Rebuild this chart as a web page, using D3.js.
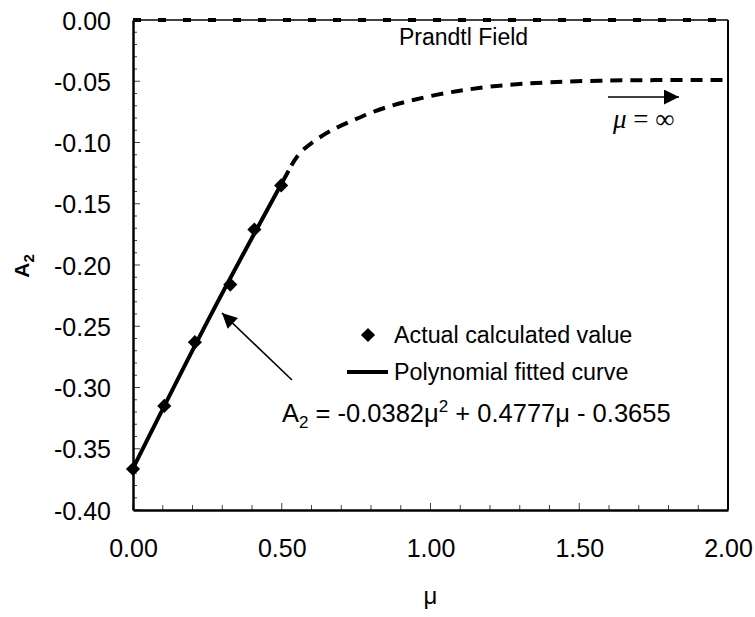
<!DOCTYPE html>
<html>
<head>
<meta charset="utf-8">
<script src="https://cdn.jsdelivr.net/npm/d3@7"></script>
<style>
  html, body { margin: 0; padding: 0; background: #fff; }
  svg { display: block; }
  text { font-family: "Liberation Sans", Arial, sans-serif; fill: #000; }
</style>
</head>
<body>
<svg id="chart" width="755" height="617"></svg>
<script>
// ---- data ----
const muActual = [0, 0.105, 0.208, 0.327, 0.408, 0.498];
const a2Actual = [-0.3665, -0.315, -0.263, -0.216, -0.171, -0.135];

const muFit = [0, 0.26, 0.523];
const a2Fit = [-0.366, -0.2415, -0.123];

const muExtrap = [0.523, 0.555, 0.612, 0.672, 0.736, 0.803, 0.874, 0.941, 1.015, 1.089, 1.16, 1.244, 1.40, 1.57, 1.74, 2.0];
const a2Extrap = [-0.123, -0.1086, -0.098, -0.089, -0.0824, -0.0751, -0.0694, -0.0653, -0.0612, -0.058, -0.0555, -0.0531, -0.0506, -0.0494, -0.049, -0.049];

const muPrandtl = [0, 2];
const a2Prandtl = [0, 0];

const xTicks = [0, 0.5, 1.0, 1.5, 2.0];
const yTicks = [0, -0.05, -0.10, -0.15, -0.20, -0.25, -0.30, -0.35, -0.40];

const legendLabels = ["Actual calculated value", "Polynomial fitted curve"];

// ---- layout ----
const svg = d3.select("#chart");
const L = 133, R = 728, T = 20, B = 510;
const x = d3.scaleLinear().domain([0, 2]).range([L, R]);
const y = d3.scaleLinear().domain([-0.4, 0]).range([B, T]);
const fmt = d => (Math.abs(d) < 1e-9 ? 0 : d).toFixed(2);

const g = svg.append("g");

// minor ticks on y (inside)
const yMinor = d3.range(0, 41).map(i => -i * 0.01);
g.append("g").selectAll("line").data(yMinor).join("line")
  .attr("x1", L).attr("x2", (d, i) => L + (i % 5 === 0 ? 7 : 4))
  .attr("y1", d => y(d)).attr("y2", d => y(d))
  .attr("stroke", "#444").attr("stroke-width", 1);

// minor ticks on x (inside)
const xMinor = d3.range(0, 21).map(i => i * 0.1);
g.append("g").selectAll("line").data(xMinor).join("line")
  .attr("x1", d => x(d)).attr("x2", d => x(d))
  .attr("y1", B).attr("y2", (d, i) => B - (i % 5 === 0 ? 7 : 5))
  .attr("stroke", "#444").attr("stroke-width", 1);

// frame
g.append("line").attr("x1", R).attr("x2", R).attr("y1", T).attr("y2", B)
  .attr("stroke", "#000").attr("stroke-width", 2);
g.append("line").attr("x1", L).attr("x2", R).attr("y1", T).attr("y2", T)
  .attr("stroke", "#000").attr("stroke-width", 1.5);

// axes via d3
const xAxis = d3.axisBottom(x).tickValues(xTicks).tickFormat(fmt).tickSize(0);
const yAxis = d3.axisLeft(y).tickValues(yTicks).tickFormat(fmt).tickSize(0).tickPadding(22);

const gx = g.append("g").attr("transform", `translate(0,${B})`).call(xAxis);
gx.select(".domain").attr("stroke", "#000").attr("stroke-width", 2.5);
gx.selectAll("text").style("font-size", "25px").attr("dy", "0").attr("y", 47);

const gy = g.append("g").attr("transform", `translate(${L},0)`).call(yAxis);
gy.select(".domain").attr("stroke", "#000").attr("stroke-width", 2.5);
gy.selectAll("text").style("font-size", "25px").attr("dy", "0.36em");

// Prandtl field dashed line at A2 = 0
const lineGen = d3.line().x(d => x(d[0])).y(d => y(d[1]));
g.append("path").datum(d3.zip(muPrandtl, a2Prandtl))
  .attr("d", lineGen).attr("fill", "none").attr("stroke", "#000")
  .attr("stroke-width", 4).attr("stroke-dasharray", "8,17");

// extrapolated dashed curve
const curveGen = d3.line().x(d => x(d[0])).y(d => y(d[1])).curve(d3.curveBasis);
g.append("path").datum(d3.zip(muExtrap, a2Extrap))
  .attr("d", curveGen).attr("fill", "none").attr("stroke", "#000")
  .attr("stroke-width", 4).attr("stroke-dasharray", "12,8").attr("stroke-dashoffset", -6);

// fitted solid curve
const fitGen = d3.line().x(d => x(d[0])).y(d => y(d[1])).curve(d3.curveNatural);
g.append("path").datum(d3.zip(muFit, a2Fit))
  .attr("d", fitGen).attr("fill", "none").attr("stroke", "#000")
  .attr("stroke-width", 4);

// actual points (diamonds)
const diamond = d3.symbol().type(d3.symbolSquare).size(100);
g.append("g").selectAll("path").data(d3.zip(muActual, a2Actual)).join("path")
  .attr("d", diamond)
  .attr("transform", d => `translate(${x(d[0])},${y(d[1])}) rotate(45)`)
  .attr("fill", "#000");

// arrow markers
const defs = svg.append("defs");
defs.append("marker").attr("id", "ah").attr("viewBox", "0 0 10 10")
  .attr("refX", 10).attr("refY", 5).attr("markerUnits", "userSpaceOnUse")
  .attr("markerWidth", 17).attr("markerHeight", 15).attr("orient", "auto")
  .append("path").attr("d", "M0,0 L10,5 L0,10 Z").attr("fill", "#000");

// annotation arrow to fitted curve
g.append("line").attr("x1", 292).attr("y1", 380).attr("x2", 222).attr("y2", 313)
  .attr("stroke", "#000").attr("stroke-width", 1.6).attr("marker-end", "url(#ah)");

// mu = infinity arrow
g.append("line").attr("x1", 608).attr("y1", 97).attr("x2", 679).attr("y2", 97)
  .attr("stroke", "#000").attr("stroke-width", 1.6).attr("marker-end", "url(#ah)");

// texts
g.append("text").attr("x", 399).attr("y", 45).style("font-size", "23px").text("Prandtl Field");

const inf = g.append("text").attr("x", 613).attr("y", 128)
  .style("font-family", "'Liberation Serif', 'Times New Roman', serif").style("font-size", "27px");
inf.append("tspan").style("font-style", "italic").text("μ");
inf.append("tspan").text(" = ∞");

// legend
g.append("path").attr("d", diamond).attr("transform", "translate(368,335) rotate(45)").attr("fill", "#000");
g.append("text").attr("x", 394).attr("y", 343).style("font-size", "23.3px").text(legendLabels[0]);
g.append("line").attr("x1", 347).attr("x2", 388).attr("y1", 372).attr("y2", 372)
  .attr("stroke", "#000").attr("stroke-width", 4);
g.append("text").attr("x", 394).attr("y", 380).style("font-size", "23.3px").text(legendLabels[1]);

// equation
const eq = g.append("text").attr("x", 282).attr("y", 422).style("font-size", "25.5px");
eq.append("tspan").text("A");
eq.append("tspan").attr("dy", 6).style("font-size", "17px").text("2");
eq.append("tspan").attr("dy", -6).text(" = -0.0382μ");
eq.append("tspan").attr("dy", -10).style("font-size", "17px").text("2");
eq.append("tspan").attr("dy", 10).text(" + 0.4777μ - 0.3655");

// axis titles
g.append("text").attr("x", x(1)).attr("y", 604).attr("text-anchor", "middle")
  .style("font-size", "24px").text("μ");

const yt = g.append("text").attr("transform", "translate(29,266) rotate(-90)")
  .attr("text-anchor", "middle").style("font-size", "21px").style("font-weight", "bold");
yt.append("tspan").text("A");
yt.append("tspan").attr("dy", 5).style("font-size", "15px").text("2");
</script>
</body>
</html>
